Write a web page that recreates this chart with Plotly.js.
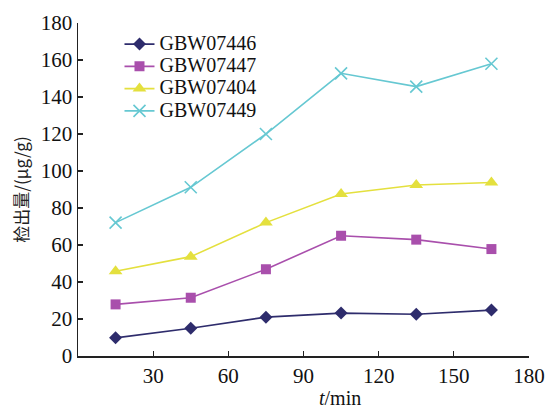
<!DOCTYPE html>
<html>
<head>
<meta charset="utf-8">
<script src="https://cdn.plot.ly/plotly-3.0.1.min.js"></script>
<style>html,body{margin:0;padding:0;background:#fff;}#chart{width:546px;height:410px;}</style>
</head>
<body>
<div id="chart"></div>
<script>
const times = [15, 45, 75, 105, 135, 165];
const seriesNames = ["GBW07446", "GBW07447", "GBW07404", "GBW07449"];
const gbw07446 = [9.8, 15.0, 21.0, 23.2, 22.6, 24.8];
const gbw07447 = [27.9, 31.5, 46.9, 65.0, 62.9, 57.8];
const gbw07404 = [45.8, 53.7, 72.1, 87.6, 92.4, 93.8];
const gbw07449 = [72.1, 91.2, 120.0, 152.8, 145.6, 158.0];
const xTicks = [30, 60, 90, 120, 150, 180];
const yTicks = [0, 20, 40, 60, 80, 100, 120, 140, 160, 180];

const styles = [
  {color: "#2e2c6c", symbol: "diamond", size: 10},
  {color: "#a94fac", symbol: "square", size: 10},
  {color: "#e4e03e", symbol: "triangle-up", size: 12},
  {color: "#66c8d2", symbol: "x-thin-open", size: 12}
];
const values = [gbw07446, gbw07447, gbw07404, gbw07449];

const data = values.map((v, i) => ({
  x: times,
  y: v,
  name: '<span style="font-size:20px">' + seriesNames[i] + '</span>',
  type: "scatter",
  mode: "lines+markers",
  line: {color: styles[i].color, width: 1.6},
  marker: {color: styles[i].color, symbol: styles[i].symbol, size: styles[i].size,
           line: {color: styles[i].color, width: styles[i].symbol === "x-thin-open" ? 1.6 : 0}}
}));

const serif = "Liberation Serif, Times New Roman, serif";
const layout = {
  width: 546, height: 410,
  margin: {l: 78, r: 17, t: 23, b: 54},
  paper_bgcolor: "#ffffff",
  plot_bgcolor: "#ffffff",
  showlegend: true,
  legend: {
    x: 0.092, y: 0.985, xanchor: "left", yanchor: "top",
    bgcolor: "rgba(0,0,0,0)",
    font: {family: serif, size: 14.8, color: "#111"},
    tracegroupgap: 0
  },
  xaxis: {
    range: [0, 180],
    tickvals: xTicks,
    ticktext: xTicks.map(String),
    ticks: "inside", ticklen: 5, tickwidth: 1.3, tickcolor: "#222",
    showline: true, linecolor: "#222", linewidth: 1.5,
    showgrid: false, zeroline: false,
    tickfont: {family: serif, size: 21, color: "#111"}
  },
  yaxis: {
    range: [0, 180],
    tickvals: yTicks,
    ticktext: yTicks.map(String),
    ticks: "inside", ticklen: 5, tickwidth: 1.3, tickcolor: "#222",
    showline: true, linecolor: "#222", linewidth: 1.5,
    showgrid: false, zeroline: false,
    tickfont: {family: serif, size: 21, color: "#111"},
    title: {text: "检出量/(μg/g)", font: {family: "Noto Sans CJK SC, " + serif, size: 17, color: "#222"}, standoff: 8}
  },
  annotations: [{
    text: "<i>t</i>/min", xref: "paper", yref: "paper", x: 0.58, y: -0.126,
    xanchor: "center", yanchor: "middle", showarrow: false,
    font: {family: serif, size: 20, color: "#111"}
  }]
};

Plotly.newPlot("chart", data, layout, {displayModeBar: false, staticPlot: true});
</script>
</body>
</html>
